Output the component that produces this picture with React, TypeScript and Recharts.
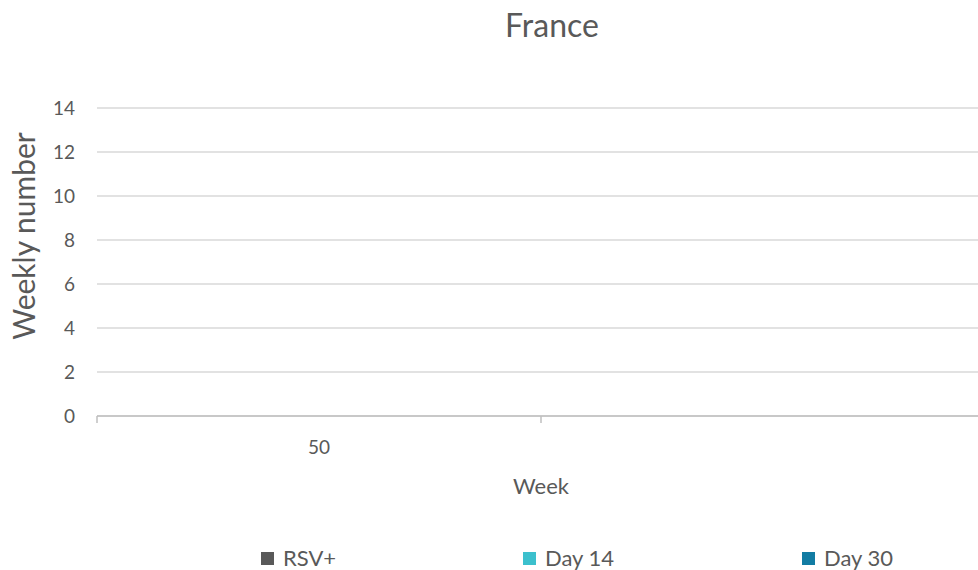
import React from "react";
import { BarChart, Bar, XAxis, YAxis, CartesianGrid, Label } from "recharts";

const weeks = ["50", "51"];
const rsvPositive = [0, 0];
const day14 = [0, 0];
const day30 = [0, 0];
const yTicks = [0, 2, 4, 6, 8, 10, 12, 14];

const seriesNames = ["RSV+", "Day 14", "Day 30"];
const seriesColors = ["#595959", "#3CC0CD", "#127CA3"];

const data = weeks.map((w, i) => ({
  week: w,
  rsv: rsvPositive[i],
  d14: day14[i],
  d30: day30[i],
}));

const W = 1000;
const H = 570;
const margin = { top: 108, right: 15, bottom: 94, left: 0 };
const yAxisWidth = 97;
const halfBand = (W - margin.left - margin.right - yAxisWidth) / weeks.length / 2;
const font = "Lato, 'Open Sans', sans-serif";
const textColor = "#595959";

function WeekTick(props: any) {
  const { x, y, payload, index } = props;
  return (
    <g>
      <line x1={x - halfBand} x2={x - halfBand} y1={y} y2={y + 7} stroke="#BFBFBF" strokeWidth={1.5} />
      {index % 2 === 0 && (
        <text x={x} y={y + 38} textAnchor="middle" fill={textColor} fontSize={19} fontFamily={font}>
          {payload.value}
        </text>
      )}
    </g>
  );
}

function ValueTick(props: any) {
  const { y, payload } = props;
  return (
    <text x={yAxisWidth - 22} y={y + 7} textAnchor="end" fill={textColor} fontSize={19} fontFamily={font}>
      {payload.value}
    </text>
  );
}

export default function App() {
  const legendX = [261, 523, 802];
  return (
    <div style={{ position: "absolute", left: 0, top: 0, width: 978, height: 570, overflow: "hidden", background: "#fff" }}>
      <BarChart width={W} height={H} data={data} margin={margin} barGap={0}>
        <CartesianGrid vertical={false} stroke="#D9D9D9" strokeWidth={1.3} />
        <XAxis
          dataKey="week"
          height={60}
          axisLine={{ stroke: "#BFBFBF", strokeWidth: 1.5 }}
          tickLine={false}
          tickSize={0}
          tickMargin={0}
          tick={<WeekTick />}
          interval={0}
        >
          <Label
            content={(p: any) => (
              <text
                x={p.viewBox.x + p.viewBox.width / 2}
                y={494}
                textAnchor="middle"
                fill={textColor}
                fontSize={22}
                fontFamily={font}
              >
                Week
              </text>
            )}
          />
        </XAxis>
        <YAxis
          width={yAxisWidth}
          domain={[0, 14]}
          ticks={yTicks}
          axisLine={false}
          tickLine={false}
          tickSize={0}
          tickMargin={22}
          tick={<ValueTick />}
        >
          <Label
            content={() => (
              <text
                x={35}
                y={236}
                transform="rotate(-90 35 236)"
                textAnchor="middle"
                fill={textColor}
                fontSize={30}
                fontFamily={font}
              >
                Weekly number
              </text>
            )}
          />
        </YAxis>
        <Bar dataKey="rsv" name={seriesNames[0]} fill={seriesColors[0]} isAnimationActive={false} />
        <Bar dataKey="d14" name={seriesNames[1]} fill={seriesColors[1]} isAnimationActive={false} />
        <Bar dataKey="d30" name={seriesNames[2]} fill={seriesColors[2]} isAnimationActive={false} />
      </BarChart>
      <svg width={978} height={570} style={{ position: "absolute", left: 0, top: 0, pointerEvents: "none" }}>
        <text x={552} y={37} textAnchor="middle" fill={textColor} fontSize={32} fontFamily={font}>
          France
        </text>
        {seriesNames.map((name, i) => (
          <g key={name}>
            <rect x={legendX[i]} y={552} width={13} height={13} fill={seriesColors[i]} />
            <text x={legendX[i] + 22} y={566} fill={textColor} fontSize={22} fontFamily={font}>
              {name}
            </text>
          </g>
        ))}
      </svg>
    </div>
  );
}
